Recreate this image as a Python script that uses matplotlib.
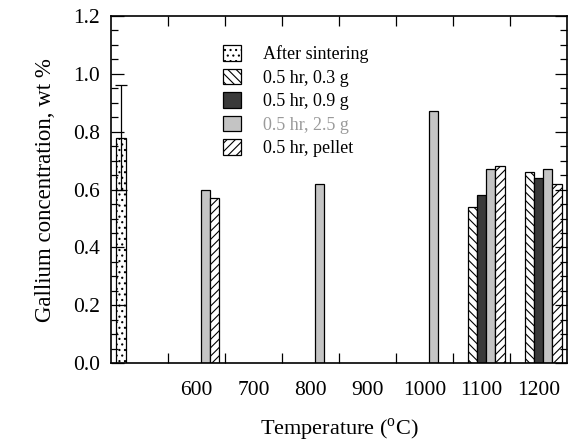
import numpy as np
import matplotlib
matplotlib.use("Agg")
import matplotlib.pyplot as plt

plt.rcParams['font.family'] = ['Liberation Serif', 'DejaVu Serif']
plt.rcParams['mathtext.fontset'] = 'custom'
plt.rcParams['mathtext.rm'] = 'Liberation Serif'
plt.rcParams['hatch.linewidth'] = 0.8

categories = ['', '600', '700', '800', '900', '1000', '1100', '1200']
series_names = ['After sintering', '0.5 hr, 0.3 g', '0.5 hr, 0.9 g', '0.5 hr, 2.5 g', '0.5 hr, pellet']
after_sintering = [0.78, None, None, None, None, None, None, None]
after_sintering_err = [0.18, None, None, None, None, None, None, None]
g03 = [None, None, None, None, None, None, 0.54, 0.66]
g09 = [None, None, None, None, None, None, 0.58, 0.64]
g25 = [None, 0.60, None, 0.62, None, 0.87, 0.67, 0.67]
pellet = [None, 0.57, None, None, None, None, 0.68, 0.62]

series = [after_sintering, g03, g09, g25, pellet]
faces = ['white', 'white', '#3a3a3a', '#c4c4c4', 'white']
hatches = ['...', '\\\\\\\\', None, None, '////']
offsets = [-2, -1, 0, 1, 2]
w = 0.161

fig = plt.figure(figsize=(5.74, 4.44), dpi=100)
ax = fig.add_axes([0.193, 0.182, 0.795, 0.782])

for vals, fc, h, off, name in zip(series, faces, hatches, offsets, series_names):
    xs = [i + off * w for i, v in enumerate(vals) if v is not None]
    ys = [v for v in vals if v is not None]
    ax.bar(xs, ys, width=w, facecolor=fc, edgecolor='black', hatch=h,
           linewidth=0.9, label=name)

xe = [i + offsets[0] * w for i, v in enumerate(after_sintering) if v is not None]
ye = [v for v in after_sintering if v is not None]
ee = [e for e in after_sintering_err if e is not None]
ax.errorbar(xe, ye, yerr=ee, fmt='none', ecolor='black', elinewidth=0.9,
            capsize=4, capthick=0.9)

ax.set_xlim(-0.5, len(categories) - 0.5)
ax.set_ylim(0, 1.2)
ax.set_xticks(np.arange(len(categories) - 1) + 0.5)
ax.set_xticklabels([])
ax.set_xticks(np.arange(len(categories)), minor=True)
ax.set_xticklabels(categories, minor=True)
ax.tick_params(axis='x', which='major', direction='in', top=True, bottom=True, length=7, width=0.9)
ax.tick_params(axis='x', which='minor', length=0, pad=13, labelsize=15.5)
ax.set_yticks(np.arange(0, 1.21, 0.2))
ax.set_yticklabels(['%.1f' % v for v in np.arange(0, 1.21, 0.2)])
ax.set_yticks(np.arange(0, 1.21, 0.05), minor=True)
ax.tick_params(axis='y', which='major', direction='in', left=True, right=True, length=9, width=0.9, labelsize=15.5, pad=8)
ax.tick_params(axis='y', which='minor', direction='in', left=True, right=True, length=5, width=0.9)
for s in ax.spines.values():
    s.set_linewidth(1.2)

ax.set_xlabel(r'Temperature ($^{\mathrm{o}}$C)', fontsize=16, labelpad=11.5)
ax.set_ylabel('Gallium concentration, wt %', fontsize=16.5, labelpad=12)

leg = ax.legend(loc='upper left', bbox_to_anchor=(0.21, 0.962), frameon=False,
                fontsize=13, handlelength=1.0, handleheight=0.95,
                handletextpad=1.2, labelspacing=0.3)
leg.get_texts()[3].set_color('#9a9a9a')

fig.savefig('out.png', dpi=100)
